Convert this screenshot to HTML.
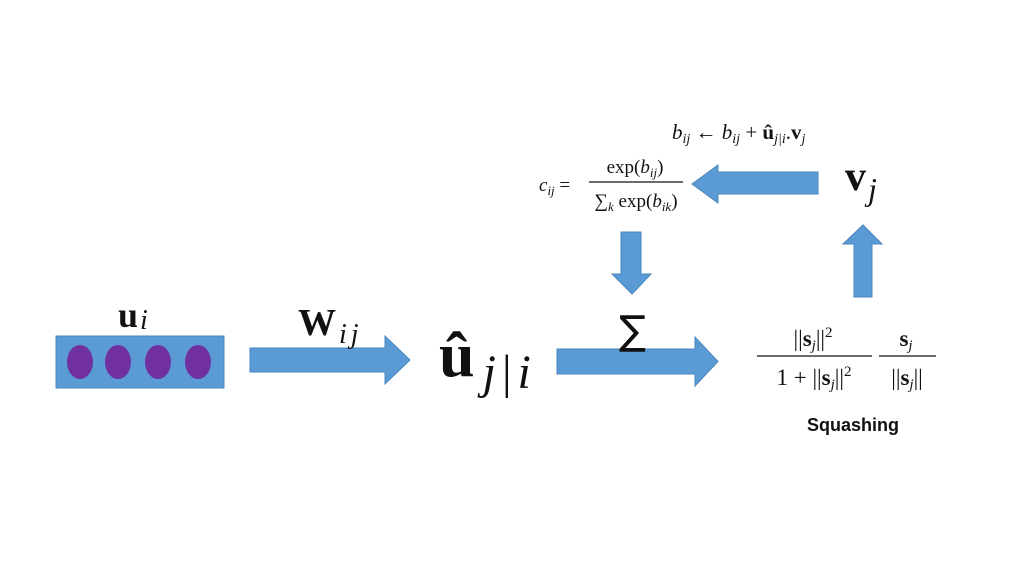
<!DOCTYPE html>
<html><head><meta charset="utf-8"><style>
html,body{margin:0;padding:0;background:#fff;width:1024px;height:576px;overflow:hidden}
svg text{font-family:"Liberation Serif",serif;fill:#111}
.b{font-weight:bold}
.i{font-style:italic}
</style></head><body>
<svg width="1024" height="576" viewBox="0 0 1024 576" xmlns="http://www.w3.org/2000/svg">
<g fill="#5b9bd5" stroke="#4a86bd" stroke-width="1">
<rect x="56" y="336" width="168" height="52"/>
<polygon points="250,348 385,348 385,336 410,360 385,384 385,372 250,372"/>
<polygon points="557,349 695,349 695,337 718,361.5 695,386 695,374 557,374"/>
<polygon points="818,172 718,172 718,165 692,184 718,203 718,194 818,194"/>
<polygon points="621,232 641,232 641,274 651,274 632,294 612,274 621,274"/>
<polygon points="854,297 872,297 872,244 882,244 863,225 843,244 854,244"/>
</g>
<g fill="#7030a0">
<ellipse cx="80" cy="362" rx="13" ry="17"/>
<ellipse cx="118" cy="362" rx="13" ry="17"/>
<ellipse cx="158" cy="362" rx="13" ry="17"/>
<ellipse cx="198" cy="362" rx="13" ry="17"/>
</g>
<text x="118" y="327" font-size="36" class="b">u<tspan class="i" font-weight="normal" font-size="28" dx="2" dy="2">i</tspan></text>
<text x="298" y="335" font-size="38" class="b">W<tspan class="i" font-weight="normal" font-size="28" dx="3" dy="8" letter-spacing="4">ij</tspan></text>
<text x="439" y="376" font-size="64" class="b">û<tspan class="i" font-weight="normal" font-size="48" dx="8" dy="12">j</tspan><tspan font-weight="normal" font-size="48" dx="6">|</tspan><tspan class="i" font-weight="normal" font-size="48" dx="6">i</tspan></text>
<text x="619" y="344" font-size="40" style="font-family:'DejaVu Sans',sans-serif">∑</text>
<text x="672" y="139" font-size="21"><tspan class="i">b</tspan><tspan class="i" font-size="14" dy="4">ij</tspan><tspan dy="-4"> ← </tspan><tspan class="i">b</tspan><tspan class="i" font-size="14" dy="4">ij</tspan><tspan dy="-4"> + </tspan><tspan class="b">û</tspan><tspan class="i" font-size="14" dy="4">j|i</tspan><tspan dy="-4">.</tspan><tspan class="b">v</tspan><tspan class="i" font-size="14" dy="4">j</tspan></text>
<text x="539" y="191" font-size="19"><tspan class="i">c</tspan><tspan class="i" font-size="13" dy="4">ij</tspan><tspan dy="-4"> =</tspan></text>
<text x="635" y="173" font-size="19" text-anchor="middle">exp(<tspan class="i">b</tspan><tspan class="i" font-size="13" dy="4">ij</tspan><tspan dy="-4">)</tspan></text>
<line x1="589" y1="182" x2="683" y2="182" stroke="#111" stroke-width="1.2"/>
<text x="636" y="207" font-size="19" text-anchor="middle">∑<tspan class="i" font-size="13" dy="4">k</tspan><tspan dy="-4"> exp(</tspan><tspan class="i">b</tspan><tspan class="i" font-size="13" dy="4">ik</tspan><tspan dy="-4">)</tspan></text>
<text x="845" y="190" font-size="42" class="b">v<tspan class="i" font-weight="normal" font-size="32" dx="2" dy="10">j</tspan></text>
<text x="813" y="346" font-size="23" text-anchor="middle">||<tspan class="b">s</tspan><tspan class="i" font-size="15" dy="4">j</tspan><tspan dy="-4">||</tspan><tspan font-size="15" dy="-9">2</tspan></text>
<line x1="757" y1="356" x2="872" y2="356" stroke="#111" stroke-width="1.3"/>
<text x="814" y="385" font-size="23" text-anchor="middle">1 + ||<tspan class="b">s</tspan><tspan class="i" font-size="15" dy="4">j</tspan><tspan dy="-4">||</tspan><tspan font-size="15" dy="-9">2</tspan></text>
<text x="906" y="346" font-size="23" text-anchor="middle"><tspan class="b">s</tspan><tspan class="i" font-size="15" dy="4">j</tspan></text>
<line x1="879" y1="356" x2="936" y2="356" stroke="#111" stroke-width="1.3"/>
<text x="907" y="385" font-size="23" text-anchor="middle">||<tspan class="b">s</tspan><tspan class="i" font-size="15" dy="4">j</tspan><tspan dy="-4">||</tspan></text>
<text x="853" y="431" font-size="18" font-weight="bold" text-anchor="middle" style="font-family:'Liberation Sans',sans-serif">Squashing</text>
</svg>
</body></html>
